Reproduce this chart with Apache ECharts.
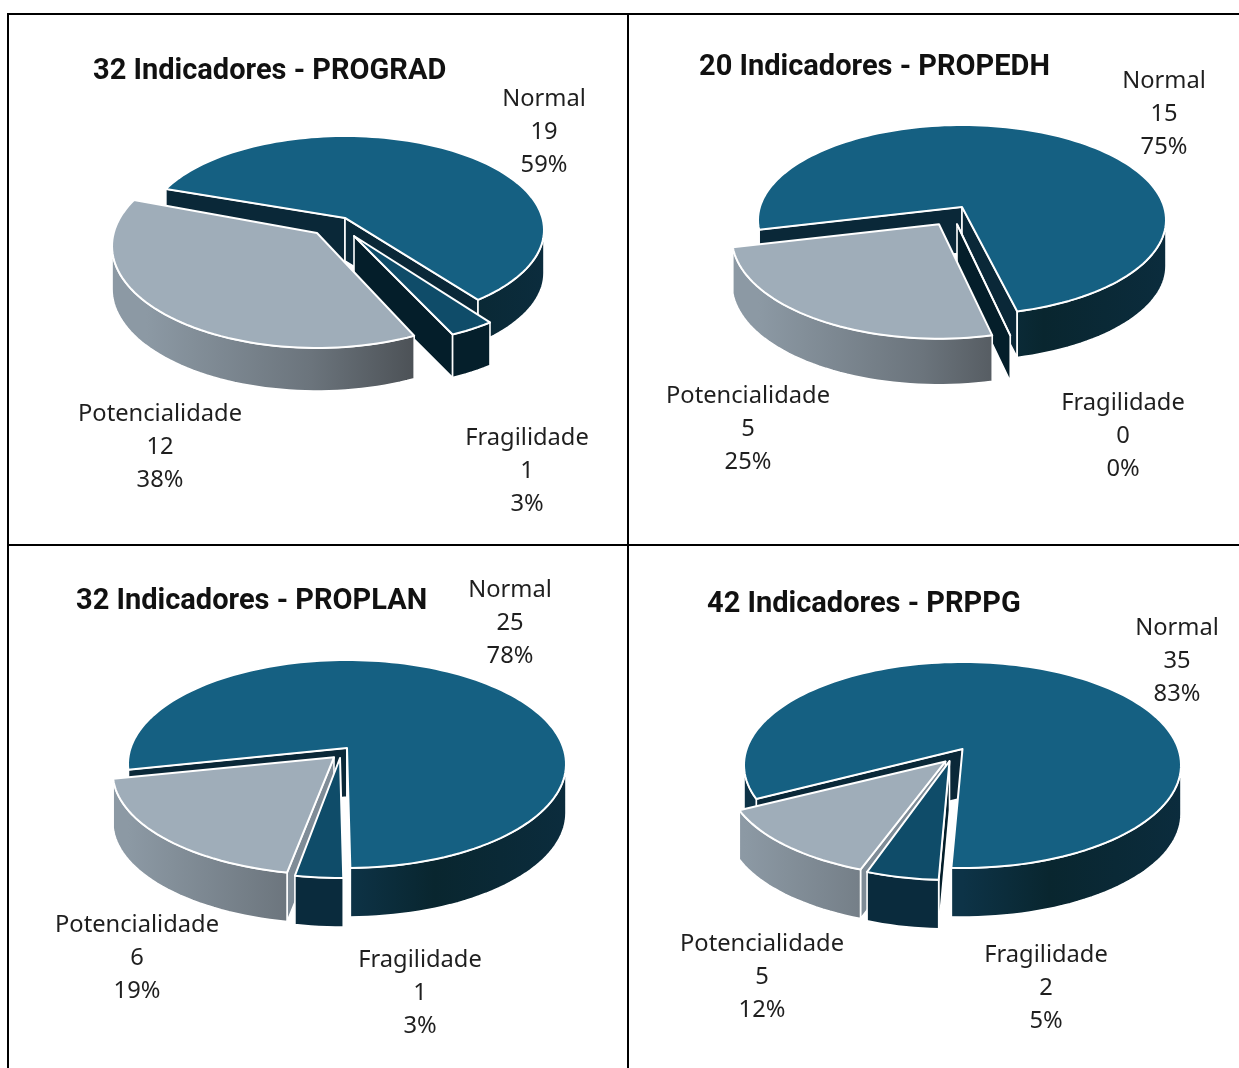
<!DOCTYPE html>
<html>
<head>
<meta charset="utf-8">
<style>html,body{margin:0;padding:0;background:#fff}#c{width:1239px;height:1068px}</style>
<script src="https://cdn.jsdelivr.net/npm/echarts@6/dist/echarts.min.js"></script>
</head>
<body>
<div id="c"></div>
<script>
// ---- data ----
const categories = ['Normal', 'Fragilidade', 'Potencialidade'];
const panelTitles = ['32 Indicadores - PROGRAD', '20 Indicadores - PROPEDH', '32 Indicadores - PROPLAN', '42 Indicadores - PRPPG'];
const progradValues = [19, 1, 12];
const propedhValues = [15, 0, 5];
const proplanValues = [25, 1, 6];
const prppgValues = [35, 2, 5];
const panelValues = [progradValues, propedhValues, proplanValues, prppgValues];

// ---- layout and style ----
const LABEL_FONT = '"Noto Sans", sans-serif';
const TITLE_FONT = 'Roboto, sans-serif';
const colors = {
  top: ['#156082', '#0f4c69', '#9fadb9'],
  cut: ['#0a2838', '#041e2a', '#7f8c97']
};
// shift: [dx, dy, scaleX, scaleY, rotation in degrees] for each slice
const layouts = [
  { cx: 345, cy: 230, rx: 199, ry: 94, e: 0.128, start: -70, depth: 43, fragWall: '#051f2b', order: [0, 1, 2],
    shift: [[0, 0, 1, 1, -1], [9, 18.5, 1.045, 1.04, 0], [-28, 16, 1.03, 1.085, 0]],
    labels: [[544, 132], [527, 471], [160, 447]], title: [93, 71.5] },
  { cx: 962, cy: 220, rx: 204, ry: 95, e: 0.137, start: -103, depth: 46, fragWall: '#051f2b', order: [0, 1, 2],
    shift: [[0, 0, 1, 1, -0.7], [-5, 18, 1.015, 1.06, 0], [-23, 18, 1.015, 1.06, 0]],
    labels: [[1164, 114], [1123, 436], [748, 429]], title: [699, 67.5] },
  { cx: 347, cy: 764, rx: 219, ry: 104, e: 0.154, start: -102, depth: 49, fragWall: '#0a2b3d', order: [0, 2, 1],
    shift: [[0, 0, 1, 1, 0], [-7, 10, 0.97, 1, 0], [-13, 9, 1.01, 0.98, 0]],
    labels: [[510, 623], [420, 993], [137, 958]], title: [76, 601.5] },
  { cx: 962.5, cy: 765, rx: 218.5, ry: 103, e: 0.155, start: -117.5, depth: 49, fragWall: '#0a2b3d', order: [0, 2, 1],
    shift: [[0, 0, 1, 1, 0], [-13, 12, 0.97, 1, 0], [-17, 12, 1, 0.975, 0]],
    labels: [[1177, 661], [1046, 988], [762, 977]], title: [707, 604.5] }
];

const rad = d => d * Math.PI / 180;

// perspective projection of an angle on the pie's disc onto the slice's ellipse
function project(L, sh, deg) {
  const u = Math.sin(rad(deg)), v = Math.cos(rad(deg));
  const a = L.e, w = 1 + a * v;
  const pu = u * Math.sqrt(1 - a * a) / w, pv = (v + a) / w;
  return [L.cx + sh[0] + pu * L.rx * sh[2], L.cy + sh[1] - pv * L.ry * sh[3]];
}
function apex(L, sh) {
  return [L.cx + sh[0], L.cy + sh[1] - L.e * L.ry * sh[3]];
}
function arc(L, sh, a0, a1) {
  const pts = [], n = Math.max(1, Math.ceil(Math.abs(a1 - a0) / 2));
  for (let i = 0; i <= n; i++) pts.push(project(L, sh, a0 + (a1 - a0) * i / n));
  return pts;
}
function drop(pts, d) { return pts.map(p => [p[0], p[1] + d]); }
function wall(pts, d) { return pts.concat(drop(pts, d).reverse()); }

function poly(points, fill, w) {
  return { type: 'polygon', shape: { points: points },
    style: { fill: fill, stroke: '#ffffff', lineWidth: w === undefined ? 1.6 : w, lineJoin: 'round' }, silent: true };
}
function wallFill(L, cat) {
  if (cat === 0) {
    return new echarts.graphic.LinearGradient(L.cx, 0, L.cx + L.rx, 0, [
      { offset: 0, color: '#0d3347' }, { offset: 0.4, color: '#09262f' }, { offset: 1, color: '#0b2c3d' }], true);
  }
  if (cat === 2) {
    return new echarts.graphic.LinearGradient(L.cx - L.rx, 0, L.cx - L.rx + 300, 0, [
      { offset: 0, color: '#8c99a4' }, { offset: 0.55, color: '#6b747c' }, { offset: 1, color: '#43474b' }], true);
  }
  return L.fragWall;
}

function makeRender(panel) {
  const L = layouts[panel], vals = panelValues[panel];
  const total = vals.reduce((s, v) => s + v, 0);
  return function (params, api) {
    const cat = api.value(0), val = api.value(1);
    let before = 0;
    for (let i = 0; i < cat; i++) before += vals[i];
    const sh = L.shift[cat];
    const a0 = L.start + sh[4] + before / total * 360;
    const a1 = a0 + val / total * 360;
    const A = apex(L, sh), P0 = project(L, sh, a0), P1 = project(L, sh, a1);
    const children = [];
    // cut faces that look toward the viewer
    if (Math.sin(rad(a0)) < 0) children.push(poly(wall([A, P0], L.depth), colors.cut[cat]));
    if (Math.sin(rad(a1)) > 0) children.push(poly(wall([A, P1], L.depth), colors.cut[cat]));
    // outer wall: only the near half of the rim is visible
    const lo = Math.acos(-L.e) * 180 / Math.PI, hi = 360 - lo;
    [-360, 0, 360].forEach(k => {
      const s = Math.max(a0, lo + k), t = Math.min(a1, hi + k);
      if (t > s) children.push(poly(wall(arc(L, sh, s, t), L.depth), wallFill(L, cat)));
    });
    // top face
    children.push(poly([A].concat(arc(L, sh, a0, a1)), colors.top[cat], 2));
    // data label
    const pct = Math.round(val / total * 100);
    children.push({
      type: 'text', silent: true, z2: 100,
      x: L.labels[cat][0], y: L.labels[cat][1],
      style: { text: categories[cat] + '\n' + val + '\n' + pct + '%', align: 'center', verticalAlign: 'middle',
        font: '23.7px ' + LABEL_FONT, lineHeight: 33, fill: '#1f1f1f' }
    });
    return { type: 'group', children: children };
  };
}

const series = panelValues.map((vals, panel) => ({
  type: 'custom',
  name: panelTitles[panel],
  coordinateSystem: 'none',
  animation: false,
  silent: true,
  renderItem: makeRender(panel),
  data: layouts[panel].order.map(cat => [cat, vals[cat]])
}));

const title = panelTitles.map((t, i) => ({
  text: t, left: layouts[i].title[0], top: layouts[i].title[1] - 18,
  textStyle: { fontFamily: TITLE_FONT, fontWeight: 'bold', fontSize: 29, color: '#111111', lineHeight: 36 },
  padding: 0
}));

const rule = (x1, y1, x2, y2) => ({ type: 'line', silent: true,
  shape: { x1, y1, x2, y2 }, style: { stroke: '#000000', lineWidth: 2 } });

const chart = echarts.init(document.getElementById('c'), null, { renderer: 'canvas' });
chart.setOption({
  backgroundColor: '#ffffff',
  animation: false,
  title: title,
  tooltip: { show: false },
  graphic: [rule(7, 14, 1239, 14), rule(7, 545, 1239, 545), rule(8, 14, 8, 1068), rule(628, 14, 628, 1068)],
  series: series
});
</script>
</body>
</html>
